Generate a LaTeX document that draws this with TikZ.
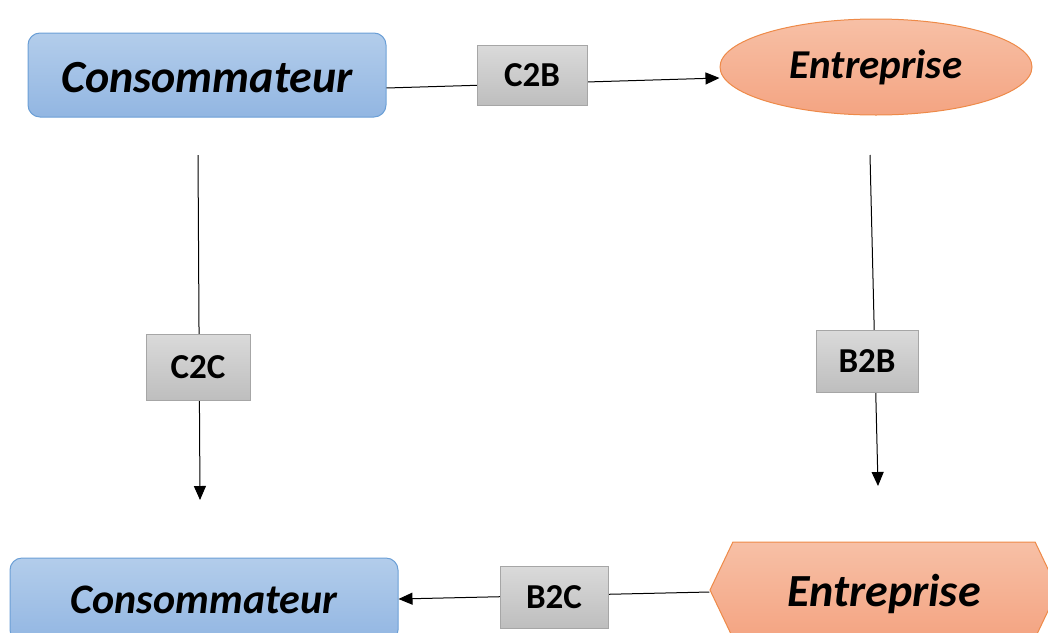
\documentclass[tikz,border=0pt]{standalone}
\usepackage{fontspec}
\setmainfont{Carlito}
\usetikzlibrary{positioning, shapes.geometric, shapes.symbols, arrows.meta}
\definecolor{bluetop}{HTML}{B3CDEB}
\definecolor{bluebot}{HTML}{92B6E2}
\definecolor{blueline}{HTML}{6B9FD6}
\definecolor{orangetop}{HTML}{F7C0A6}
\definecolor{orangebot}{HTML}{F4A482}
\definecolor{orangeline}{HTML}{EE8A48}
\definecolor{graytop}{HTML}{DADADA}
\definecolor{graybot}{HTML}{BEBEBE}
\definecolor{grayline}{HTML}{A6A6A6}
\newcommand{\lowered}[2]{\raisebox{0pt}[\dimexpr\height+#1\relax][\depth]{#2}}

\begin{document}
\begin{tikzpicture}[
  x=1pt, y=-1pt,
  link/.style={draw=black, line width=1pt},
  flow/.style={link, -{Triangle[length=14pt,width=12pt]}},
  actor/.style={inner sep=0pt, line width=1pt},
  person/.style={
    actor,
    rectangle,
    rounded corners=12pt,
    draw=blueline,
    top color=bluetop,
    bottom color=bluebot
    },
  firm/.style={
    actor,
    draw=orangeline,
    top color=orangetop,
    bottom color=orangebot
    },
  tag/.style={
    rectangle,
    draw=grayline,
    top color=graytop,
    bottom color=graybot,
    font=\fontsize{35}{38}\selectfont\bfseries
    }
]
\useasboundingbox (0,0) rectangle (1048,632);

% acteurs
\node[person, minimum width=358pt, minimum height=84pt,
  font=\fontsize{46}{50}\selectfont\bfseries\itshape] (cons1) at (207,75) {\lowered{6pt}{Consommateur}};
\node[firm, ellipse, minimum width=312pt, minimum height=96pt,
  font=\fontsize{41}{45}\selectfont\bfseries\itshape] (ent1) at (876,67) {Entreprise};
\node[person, minimum width=388pt, minimum height=84pt,
  font=\fontsize{42}{46}\selectfont\bfseries\itshape] (cons2) at (204,600) {Consommateur};
\node[firm, signal, signal to=west and east, signal pointer angle=129,
  minimum width=348pt, minimum height=96pt,
  font=\fontsize{46}{50}\selectfont\bfseries\itshape] (ent2) at (884,590) {\lowered{8pt}{Entreprise}};

% extremites libres
\coordinate (c2c from) at (198,155);
\coordinate (c2c to) at (200,500);
\coordinate (b2b from) at (870,155);
\coordinate (b2b to) at (878,486);

% liens
\draw[flow] ([yshift=-13pt]cons1.east) -- ([yshift=-11pt]ent1.west);
\draw[flow] (c2c from) -- (c2c to);
\draw[flow] (b2b from) -- (b2b to);
\draw[flow] ([yshift=-2pt]ent2.west) -- ([yshift=1pt]cons2.east);

% types d'echange
\node[tag, minimum width=110pt, minimum height=60pt] (c2b) at (532,75) {C2B};
\node[tag, minimum width=104pt, minimum height=66pt] (c2c) at (198,367) {C2C};
\node[tag, minimum width=102pt, minimum height=62pt] (b2b) at (867,361) {B2B};
\node[tag, minimum width=108pt, minimum height=62pt] (b2c) at (554,597) {B2C};

\end{tikzpicture}
\end{document}
